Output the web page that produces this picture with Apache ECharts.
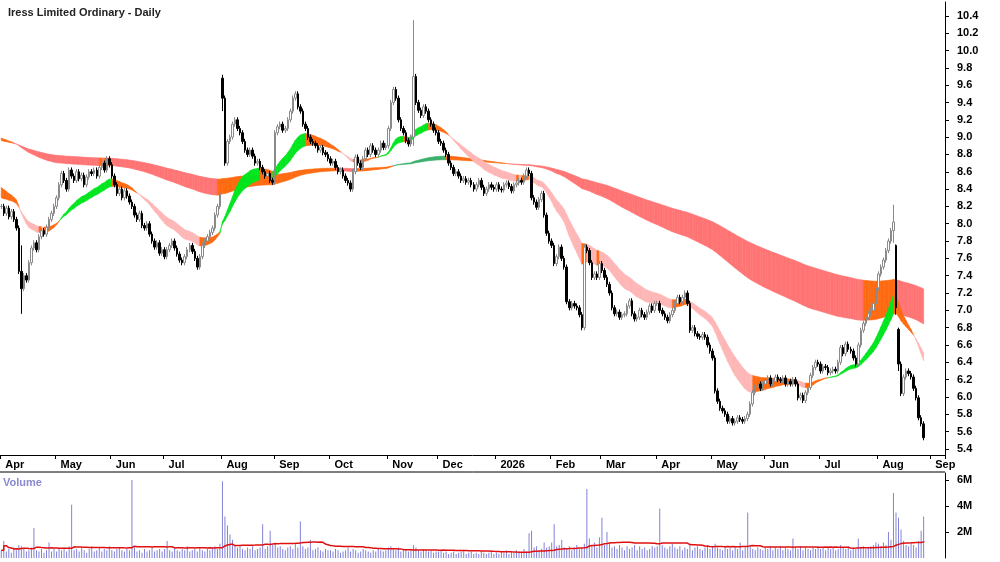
<!DOCTYPE html>
<html>
<head>
<meta charset="utf-8" />
<title>Iress Limited Ordinary - Daily</title>
<script src="https://cdn.jsdelivr.net/npm/echarts@6/dist/echarts.min.js"></script>
<style>html,body{margin:0;padding:0;background:#fff}</style>
</head>
<body>
<div id="main" style="width:1000px;height:562px;"></div>
<script>
// daily closes, one array per month
var close2504 = [8.20,8.12,8.18,8.08,8.14,8.05,7.95,7.45,7.25,7.40,7.35,7.55,7.72,7.78,7.70,7.85,7.92,7.88,7.96,8.05,8.12,8.20];
var close2505 = [8.30,8.45,8.58,8.50,8.40,8.62,8.55,8.50,8.60,8.52,8.56,8.45,8.54,8.60,8.58,8.62,8.55,8.65,8.70,8.62,8.75,8.68];
var close2506 = [8.55,8.45,8.35,8.40,8.30,8.38,8.32,8.25,8.20,8.10,8.05,8.12,7.98,7.95,8.00,7.88,7.80,7.73,7.78,7.66,7.70];
var close2507 = [7.62,7.70,7.75,7.80,7.72,7.65,7.58,7.55,7.62,7.70,7.75,7.68,7.60,7.50,7.62,7.75,7.80,7.85,7.90,7.95,8.10,8.20,8.35];
var close2508 = [9.45,8.70,8.95,9.00,9.15,9.20,9.10,9.05,8.95,8.85,8.80,8.85,8.78,8.70,8.72,8.65,8.60,8.55,8.58,8.50,8.48];
var close2509 = [9.05,9.12,9.15,9.08,9.10,9.20,9.30,9.45,9.50,9.35,9.30,9.15,9.10,9.00,8.95,8.93,8.90,8.85,8.88,8.82,8.80,8.75];
var close2510 = [8.70,8.72,8.65,8.60,8.62,8.55,8.50,8.47,8.40,8.60,8.77,8.70,8.65,8.75,8.85,8.80,8.90,8.85,8.80,8.85,8.93,8.88,8.90];
var close2511 = [9.10,9.40,9.55,9.45,9.20,9.10,9.05,8.96,8.92,9.00,9.70,9.40,9.31,9.25,9.35,9.30,9.20,9.15,9.08,9.05];
var close2512 = [8.95,8.93,8.85,8.80,8.70,8.65,8.58,8.60,8.55,8.50,8.52,8.48,8.50,8.45,8.40,8.45,8.50,8.42,8.35,8.40,8.45,8.42,8.40];
var close2601 = [8.45,8.40,8.39,8.45,8.47,8.43,8.38,8.45,8.47,8.50,8.48,8.55,8.62,8.58,8.30,8.25,8.19,8.28,8.35,8.10,7.89,7.80];
var close2602 = [7.75,7.54,7.62,7.73,7.60,7.50,7.10,7.03,7.08,7.05,7.03,6.95,6.80,7.73,7.69,7.55,7.38,7.42,7.38,7.54];
var close2603 = [7.46,7.38,7.30,7.20,7.03,6.96,6.98,6.92,6.95,6.96,7.05,7.11,6.96,6.90,6.92,7.00,6.95,6.92,6.98,7.05,7.00,7.08];
var close2604 = [7.08,7.00,6.96,6.92,6.88,6.95,7.00,7.08,7.15,7.10,7.15,7.20,7.08,6.77,6.80,6.73,6.70,6.69,6.72,6.69,6.60,6.53];
var close2605 = [6.45,6.07,5.95,5.87,5.84,5.80,5.72,5.75,5.70,5.72,5.76,5.74,5.72,5.75,5.80,5.92,6.05,6.11,6.15,6.10,6.15];
var close2606 = [6.19,6.22,6.15,6.18,6.23,6.20,6.19,6.22,6.15,6.18,6.15,6.20,6.15,5.99,6.02,5.96,6.05,6.11,6.25,6.34,6.40,6.38];
var close2607 = [6.30,6.35,6.34,6.28,6.30,6.32,6.30,6.40,6.57,6.50,6.61,6.55,6.53,6.45,6.38,6.60,6.77,6.85,6.92,6.96,7.00,7.08,7.26];
var close2608 = [7.42,7.50,7.58,7.69,7.80,7.92,8.02,7.03,6.38,6.04,6.23,6.30,6.27,6.23,6.10,5.99,5.76,5.69,5.53];

// daily volume in millions
var vol2504 = [0.6,1.3,0.5,0.7,0.4,0.8,0.6,1.0,0.9,0.7,0.5,0.6,0.8,2.3,0.6,0.5,0.7,0.4,0.6,1.2,0.5,0.7];
var vol2505 = [0.5,0.7,0.6,0.8,0.5,0.9,4.1,0.6,0.7,0.5,0.8,0.6,0.4,0.7,0.9,0.5,0.6,0.8,0.5,0.7,0.6,0.9];
var vol2506 = [0.6,0.5,0.7,0.8,0.6,0.5,0.7,0.6,6.0,0.8,0.5,0.6,0.4,0.7,0.5,0.6,0.8,0.5,0.6,0.7,0.5];
var vol2507 = [0.7,1.3,0.6,0.5,0.8,0.6,0.5,0.7,0.6,0.9,0.5,0.6,0.7,0.5,0.8,0.6,0.5,0.7,0.6,0.8,0.9,0.7,1.1];
var vol2508 = [5.9,3.2,2.5,1.8,1.4,1.0,0.8,0.9,0.7,0.6,0.8,0.7,0.9,0.6,0.7,0.8,2.6,0.7,0.9,2.1,1.0];
var vol2509 = [1.2,0.8,0.9,0.7,0.6,0.8,0.9,0.7,1.1,0.8,2.8,0.9,0.7,0.8,1.4,0.6,0.7,0.8,0.6,0.5,0.7,0.6];
var vol2510 = [0.6,0.5,0.7,0.6,0.4,0.5,0.6,0.8,0.5,0.7,0.6,0.4,0.5,0.7,0.6,0.5,0.4,0.6,0.5,0.7,0.6,0.5,0.6];
var vol2511 = [0.8,0.9,0.7,0.6,0.8,0.5,0.6,0.7,0.5,0.6,1.0,0.8,0.6,0.5,0.7,0.6,0.5,0.6,0.4,0.5];
var vol2512 = [0.5,0.6,0.4,0.5,0.3,0.4,0.5,0.3,0.4,0.5,0.6,0.3,0.4,0.5,0.3,0.4,0.3,0.5,0.4,0.3,0.4,0.5,0.3];
var vol2601 = [0.4,0.3,0.5,0.4,0.6,0.3,0.5,0.4,0.6,0.5,0.4,0.7,0.5,1.9,2.1,0.8,0.9,0.6,0.7,1.2,0.8,0.9];
var vol2602 = [1.2,2.6,0.9,1.0,1.4,0.8,0.7,0.9,0.6,0.8,1.0,0.7,0.8,1.1,5.3,1.5,1.0,1.2,0.8,1.6];
var vol2603 = [3.1,1.0,2.0,1.2,0.8,0.9,0.7,1.0,0.8,0.6,0.9,0.7,0.8,1.0,0.6,0.9,0.7,0.8,0.6,0.7,0.9,0.8];
var vol2604 = [0.9,3.8,1.0,0.8,0.7,0.9,1.1,0.8,0.7,0.9,0.6,0.8,0.7,1.0,0.6,0.8,0.9,0.7,0.6,0.8,1.0,0.7];
var vol2605 = [0.9,1.1,0.8,0.7,0.6,0.9,0.7,0.8,0.6,0.9,0.7,1.2,0.6,0.8,3.5,0.9,0.7,0.6,0.8,0.7,0.6];
var vol2606 = [0.8,0.7,0.9,0.6,0.8,0.7,0.9,0.6,0.8,0.7,0.6,1.5,0.8,0.7,0.9,0.6,0.8,0.7,0.6,0.8,0.7,0.9];
var vol2607 = [0.7,0.8,0.6,0.9,0.7,0.8,0.6,0.7,1.0,0.8,0.7,0.9,0.6,0.8,0.7,1.5,0.8,0.9,0.7,0.8,0.9,1.0,1.2];
var vol2608 = [1.1,0.9,1.2,1.0,2.0,1.4,5.0,3.5,3.1,2.2,1.3,1.0,0.9,1.2,1.0,0.8,1.3,2.1,3.2];

// notable candles: [global day index, open, high, low]
var wicks = [[8, 7.45, 7.75, 6.96], [88, 9.68, 9.72, 9.30], [164, 9.00, 10.35, 8.90], [355, 7.92, 8.22, 7.78], [356, 7.75, 7.76, 6.95], [357, 6.78, 6.80, 6.30]];

// band seeds at the left edge and EMA periods
var shortSeed = [8.42, 8.30], longSeed = [8.99, 8.96];
var shortPeriods = [22, 34], longPeriods = [150, 260];

var yTicks = [5.4,5.6,5.8,6.0,6.2,6.4,6.6,6.8,7.0,7.2,7.4,7.6,7.8,8.0,8.2,8.4,8.6,8.8,9.0,9.2,9.4,9.6,9.8,10.0,10.2,10.4];
var volTicks = [2, 4, 6];
var monthNames = ['Jan','Feb','Mar','Apr','May','Jun','Jul','Aug','Sep','Oct','Nov','Dec'];

var closes = [].concat(close2504, close2505, close2506, close2507, close2508, close2509, close2510, close2511, close2512,
    close2601, close2602, close2603, close2604, close2605, close2606, close2607, close2608);
var vols = [].concat(vol2504, vol2505, vol2506, vol2507, vol2508, vol2509, vol2510, vol2511, vol2512,
    vol2601, vol2602, vol2603, vol2604, vol2605, vol2606, vol2607, vol2608);

// trading days (weekdays) plus some empty days at the right
var dates = [];
var d = new Date(Date.UTC(2025, 3, 1));
while (dates.length < closes.length + 8) {
    var wd = d.getUTCDay();
    if (wd !== 0 && wd !== 6) dates.push(new Date(d.getTime()));
    d.setUTCDate(d.getUTCDate() + 1);
}
var cats = dates.map(function (x) { return x.toISOString().slice(0, 10); });
var monthStart = {};
for (var i = 0; i < dates.length; i++) {
    if (i === 0 || dates[i].getUTCMonth() !== dates[i - 1].getUTCMonth()) monthStart[i] = true;
}

var candles = [];
for (var i = 0; i < closes.length; i++) {
    var o = i === 0 ? closes[0] : closes[i - 1];
    var c = closes[i];
    candles.push([o, c, Math.min(o, c) - 0.03, Math.max(o, c) + 0.03]);
}
wicks.forEach(function (w) {
    var k = candles[w[0]];
    k[0] = w[1]; k[3] = w[2]; k[2] = w[3];
});

function ema(period, seed) {
    var a = 2 / (period + 1), out = [], v = seed;
    for (var i = 0; i < closes.length; i++) {
        if (i > 0) v = v + a * (closes[i] - v);
        out.push(v);
    }
    return out;
}
// green: both rising with fast above slow; red: both falling with fast below slow; orange otherwise
function band(per, seed, cols) {
    var e1 = ema(per[0], seed[0]), e2 = ema(per[1], seed[1]), out = [];
    for (var i = 1; i < closes.length; i++) {
        var up1 = e1[i] >= e1[i - 1], up2 = e2[i] >= e2[i - 1];
        var col = cols[2];
        if (up1 && up2 && e1[i] >= e2[i]) col = cols[0];
        else if (!up1 && !up2 && e1[i] <= e2[i]) col = cols[1];
        out.push({ value: [i, e1[i - 1], e1[i], e2[i - 1], e2[i]], itemStyle: { color: col } });
    }
    return out;
}
var shortBand = band(shortPeriods, shortSeed, ['#00e61e', '#ffb6b6', '#ff6a10']);
var longBand = band(longPeriods, longSeed, ['#3cae6c', '#ff7474', '#ff6a10']);

var volMA = [];
for (var i = 0; i < vols.length; i++) {
    var s = 0, n = 0;
    for (var j = Math.max(0, i - 39); j <= i; j++) { s += vols[j]; n++; }
    volMA.push(+(s / n).toFixed(3));
}

function renderBand(params, api) {
    var i = api.value(0);
    var p1 = api.coord([i - 1, api.value(1)]), p2 = api.coord([i, api.value(2)]);
    var p3 = api.coord([i, api.value(4)]), p4 = api.coord([i - 1, api.value(3)]);
    return {
        type: 'polygon',
        shape: { points: [p1, p2, p3, p4] },
        style: { fill: api.visual('color'), stroke: api.visual('color'), lineWidth: 0.6 }
    };
}

var labelFont = { fontFamily: 'Liberation Sans', fontWeight: 'bold', fontSize: 11, color: '#000' };
var xCommon = {
    type: 'category', data: cats, boundaryGap: true,
    axisLine: { lineStyle: { color: '#000', width: 1 } },
    splitLine: { show: false }
};

var myChart = echarts.init(document.getElementById('main'));
myChart.setOption({
    animation: false,
    backgroundColor: '#fff',
    title: {
        text: 'Iress Limited Ordinary - Daily', left: 3, top: 2,
        textStyle: { fontFamily: 'Liberation Sans', fontWeight: 'bold', fontSize: 11, color: '#222' }
    },
    graphic: [
        { type: 'text', left: 3, top: 477, style: { text: 'Volume', fill: '#8a8ad0', font: 'bold 11px Liberation Sans' } },
        { type: 'line', shape: { x1: 0, y1: 472, x2: 945, y2: 472 }, style: { stroke: '#000', lineWidth: 1 } }
    ],
    grid: [
        { left: 0, right: 55, top: 2, height: 453 },
        { left: 0, right: 55, top: 473, height: 85 }
    ],
    xAxis: [
        Object.assign({}, xCommon, {
            gridIndex: 0,
            axisTick: { show: true, length: 4, interval: function (i) { return !!monthStart[i]; }, lineStyle: { color: '#000' } },
            axisLabel: {
                interval: function (i) { return !!monthStart[i]; },
                formatter: function (v) {
                    var m = +v.slice(5, 7) - 1;
                    return m === 0 ? v.slice(0, 4) : monthNames[m];
                },
                align: 'left', padding: [0, 0, 0, 4], margin: 4,
                fontFamily: 'Liberation Sans', fontWeight: 'bold', fontSize: 11, color: '#000'
            }
        }),
        Object.assign({}, xCommon, {
            gridIndex: 1, axisTick: { show: false }, axisLabel: { show: false },
            axisLine: { show: false }
        })
    ],
    yAxis: [
        {
            gridIndex: 0, position: 'right', min: 5.33, max: 10.56, scale: true,
            splitLine: { show: false },
            axisLine: { show: true, lineStyle: { color: '#000' } },
            axisTick: { show: true, length: 4, customValues: yTicks, lineStyle: { color: '#000' } },
            axisLabel: Object.assign({ customValues: yTicks, margin: 12, formatter: function (v) { return v.toFixed(1); } }, labelFont)
        },
        {
            gridIndex: 1, position: 'right', min: 0, max: 6.54,
            splitLine: { show: false },
            axisLine: { show: true, lineStyle: { color: '#000' } },
            axisTick: { show: true, length: 4, customValues: volTicks, lineStyle: { color: '#000' } },
            axisLabel: Object.assign({ customValues: volTicks, margin: 12, formatter: function (v) { return v + 'M'; } }, labelFont)
        }
    ],
    series: [
        { type: 'custom', xAxisIndex: 0, yAxisIndex: 0, renderItem: renderBand, data: longBand, encode: { x: 0, y: [1, 2, 3, 4] }, z: 1, silent: true },
        { type: 'custom', xAxisIndex: 0, yAxisIndex: 0, renderItem: renderBand, data: shortBand, encode: { x: 0, y: [1, 2, 3, 4] }, z: 1, silent: true },
        {
            type: 'candlestick', xAxisIndex: 0, yAxisIndex: 0, data: candles, barWidth: 2, z: 3,
            itemStyle: { color: '#ffffff', color0: '#000000', borderColor: '#8a8a8a', borderColor0: '#000000', borderWidth: 1 }
        },
        {
            type: 'bar', xAxisIndex: 1, yAxisIndex: 1, data: vols, barWidth: 1,
            itemStyle: { color: '#8282d8' }
        },
        {
            type: 'line', xAxisIndex: 1, yAxisIndex: 1, data: volMA, symbol: 'none', step: 'end',
            lineStyle: { color: '#e01010', width: 1.5 }, z: 4
        }
    ]
});
</script>
</body>
</html>
